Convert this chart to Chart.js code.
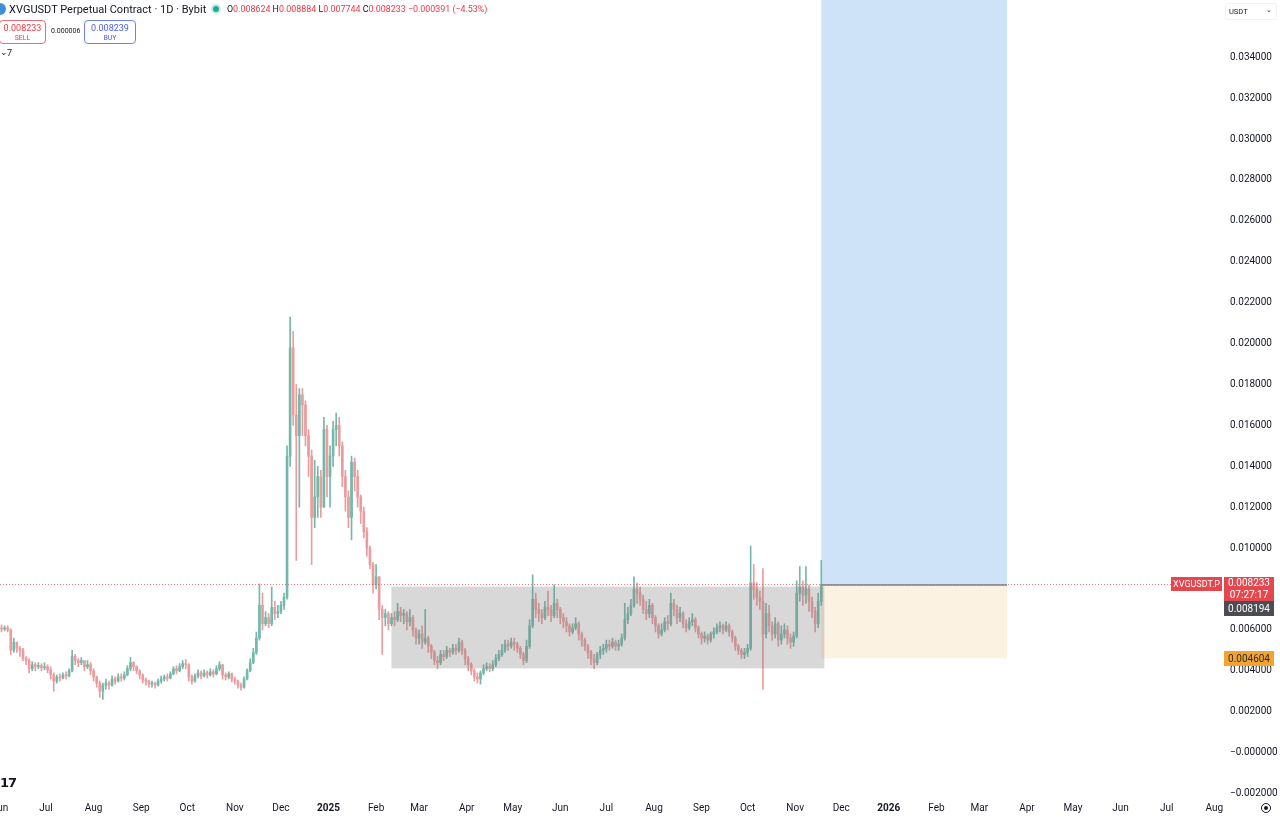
<!DOCTYPE html>
<html><head><meta charset="utf-8">
<script src="https://cdn.jsdelivr.net/npm/chart.js@4.4.1/dist/chart.umd.min.js"></script>
<style>
html,body{margin:0;padding:0;background:#fff;overflow:hidden}
#wrap{position:relative;width:1280px;height:819px;font-family:Roboto,"Noto Sans",sans-serif;color:#131722}
canvas{position:absolute;left:0;top:0}
.ov{position:absolute;white-space:nowrap;line-height:1}
.red{color:#f23645}
</style></head><body>
<div id="wrap">
<canvas id="c" width="1280" height="819"></canvas>

<div class="ov" style="left:-6px;top:3px;width:12px;height:12px;border-radius:6px;background:#3f8fd8"></div>
<div class="ov" style="left:9px;top:4px;font-size:11px;">XVGUSDT Perpetual Contract · 1D · Bybit</div>
<div class="ov" style="left:213px;top:6px;width:6px;height:6px;border-radius:4px;background:#22ab94;box-shadow:0 0 0 2px #c8ebe3"></div>
<div class="ov" id="ohlc" style="left:227px;top:5px;font-size:8.9px;"></div>

<div class="ov" style="left:-1px;top:20px;width:45px;height:22px;border:1px solid #f06a72;border-radius:4px;text-align:center;color:#f23645">
  <div style="font-size:9px;margin-top:3px">0.008233</div><div style="font-size:7px;margin-top:2px">SELL</div></div>
<div class="ov" style="left:51px;top:28px;font-size:7px;">0.000006</div>
<div class="ov" style="left:84px;top:20px;width:50px;height:22px;border:1px solid #6f7ff0;border-radius:4px;text-align:center;color:#4a5ee8">
  <div style="font-size:9px;margin-top:3px">0.008239</div><div style="font-size:7px;margin-top:2px">BUY</div></div>
<div class="ov" style="left:-1px;top:48px;font-size:9px;">
  <span style="position:absolute;left:1px;top:0px">⌄</span><span style="position:absolute;left:8px;top:1px">7</span></div>

<div class="ov" style="left:1225px;top:3px;width:50px;height:15px;border:1px solid #f0f3fa;border-radius:2px;font-size:7.5px;">
  <span style="position:absolute;left:3px;top:4px">USDT</span><span style="position:absolute;left:40px;top:3px;font-size:7px">⌄</span></div>

<div class="ov" style="left:0px;top:776px;font-size:13px;font-weight:900;letter-spacing:-1px;font-family:'DejaVu Sans',sans-serif">17</div>
<div class="ov" style="left:1261px;top:803px;width:8px;height:8px;border:1px solid #131722;border-radius:6px"></div>
<div class="ov" style="left:1264px;top:806px;width:4px;height:4px;background:#131722;border-radius:3px"></div>
</div>

<script>
// ---------- DATA ----------
const START_DATE = '2024-06-01';   // first candle
const CANDLE_DAYS = 2;             // each candle spans two days
const PRICE_UNIT = 0.001;          // arrays below are in 1e-3 USDT
const FIRST_OPEN = 6.10;

const closes = [
6.05,6.10,6.00,5.00,5.40,5.10,5.00,4.60,4.50,4.10,
4.30,4.20,4.25,4.15,4.20,4.05,3.80,3.50,3.70,3.65,
3.80,3.75,4.00,4.70,4.50,4.40,4.50,4.20,4.30,4.00,
3.70,3.40,3.00,3.30,3.40,3.30,3.60,3.50,3.70,3.65,
3.80,4.10,4.40,4.20,4.00,3.80,3.55,3.50,3.35,3.40,
3.30,3.50,3.60,3.70,3.65,3.85,4.10,4.00,4.20,4.35,
4.30,3.70,3.50,3.75,3.90,3.75,3.90,3.80,3.95,3.85,
4.10,4.30,3.80,3.70,3.85,3.60,3.50,3.30,3.20,3.60,
4.00,4.40,4.90,5.60,7.20,6.30,6.60,6.30,7.10,6.80,
6.90,7.20,7.60,14.50,19.80,16.50,15.50,17.50,17.00,15.50,
14.50,11.50,12.50,13.50,12.00,15.80,13.50,14.50,15.80,16.00,
15.00,13.50,12.50,11.50,14.20,13.50,12.50,11.80,10.80,10.00,
9.20,8.20,8.60,7.00,6.60,6.80,6.30,6.60,6.50,6.90,
6.70,6.80,6.40,6.60,6.00,5.60,5.80,5.40,5.60,5.20,
4.90,4.50,4.40,4.80,4.70,5.00,4.90,5.10,5.00,5.40,
5.00,4.60,4.30,4.00,3.70,3.60,3.90,4.10,4.20,4.10,
4.30,4.60,4.80,5.00,5.30,5.20,5.40,5.30,5.10,4.80,
4.50,5.20,6.20,7.50,7.00,6.80,6.60,7.10,7.00,6.70,
7.30,7.00,6.60,6.40,6.20,5.90,6.10,6.30,5.80,5.50,
5.20,4.90,4.60,4.40,4.80,5.00,5.10,5.30,5.20,5.40,
5.20,5.30,5.60,6.50,6.80,7.20,8.00,7.80,7.50,7.00,
6.80,7.20,6.60,6.20,5.80,6.00,6.40,6.30,7.30,7.00,
6.60,6.80,6.30,6.10,6.40,6.50,6.10,5.80,5.60,5.70,
5.50,5.80,5.90,6.10,6.20,6.00,6.20,5.90,5.60,5.20,
5.00,4.80,4.90,5.10,8.30,8.00,7.60,7.40,5.80,6.80,
6.20,5.80,6.30,5.50,5.80,6.00,5.60,5.40,5.70,7.80,
8.10,7.70,8.00,7.40,6.90,6.30,7.40,8.233];

const highs = [
6.25,6.20,6.20,6.05,5.60,5.40,5.20,5.10,4.70,4.60,
4.45,4.40,4.40,4.35,4.40,4.30,4.20,3.90,3.80,3.85,
3.90,3.95,4.10,5.00,4.80,4.60,4.65,4.50,4.50,4.40,
4.10,3.75,3.50,3.40,3.60,3.50,3.75,3.70,3.85,3.85,
3.95,4.25,4.65,4.45,4.25,4.05,3.85,3.65,3.55,3.50,
3.45,3.60,3.75,3.80,3.85,3.95,4.20,4.25,4.35,4.50,
4.55,4.35,3.80,3.85,4.05,4.00,4.05,4.00,4.10,4.05,
4.25,4.45,4.30,3.90,3.95,3.90,3.70,3.55,3.40,3.70,
4.10,4.60,5.10,5.90,8.25,7.80,6.90,6.80,8.10,7.40,
7.20,7.40,7.80,15.00,21.30,20.60,18.00,17.80,17.80,17.20,
15.80,14.80,14.30,14.00,13.80,16.40,16.00,15.00,16.20,16.60,
16.40,15.20,13.80,12.80,14.50,14.40,13.80,12.60,12.00,11.00,
10.10,9.30,9.20,8.60,7.20,7.00,6.90,6.80,6.90,7.30,
7.10,7.00,6.90,7.00,6.70,6.10,6.00,6.20,7.00,5.70,
5.30,5.00,4.70,5.00,5.00,5.20,5.10,5.30,5.30,5.60,
5.50,5.10,4.70,4.40,4.10,3.90,4.00,4.30,4.40,4.35,
4.50,4.80,5.00,5.30,5.50,5.50,5.60,5.60,5.40,5.20,
4.90,5.50,6.50,8.70,7.80,7.30,7.00,7.40,7.90,7.20,
8.20,7.50,7.10,6.80,6.60,6.30,6.30,6.60,6.40,5.90,
5.60,5.30,5.00,4.80,4.90,5.20,5.30,5.50,5.50,5.60,
5.50,5.50,5.80,7.30,7.10,7.50,8.60,8.30,8.10,7.70,
7.40,7.50,7.30,6.70,6.30,6.30,6.60,6.70,7.80,7.50,
7.20,7.10,6.90,6.50,6.60,6.80,6.60,6.20,5.90,5.90,
5.80,5.90,6.10,6.30,6.40,6.30,6.40,6.30,6.00,5.70,
5.30,5.10,5.10,5.30,10.10,9.20,8.30,7.90,9.00,7.30,
7.20,6.40,6.60,6.40,6.20,6.30,6.20,5.80,5.90,8.40,
9.10,8.40,9.10,8.20,7.60,7.10,7.80,9.40];

const lows = [
5.90,5.95,5.90,4.80,4.90,4.90,4.70,4.50,4.30,3.90,
4.00,4.00,4.10,4.00,4.05,3.90,3.60,3.00,3.40,3.50,
3.60,3.60,3.70,3.95,4.30,4.20,4.30,4.00,4.10,3.80,
3.50,3.20,2.70,2.60,3.10,3.10,3.25,3.35,3.45,3.50,
3.55,3.75,4.00,4.00,3.85,3.60,3.40,3.30,3.20,3.20,
3.15,3.25,3.40,3.50,3.50,3.60,3.80,3.85,3.95,4.10,
4.10,3.50,3.35,3.45,3.65,3.60,3.70,3.65,3.75,3.70,
3.80,4.00,3.60,3.55,3.60,3.45,3.35,3.15,3.05,3.15,
3.55,3.95,4.35,4.80,5.50,6.00,6.20,6.10,6.20,6.50,
6.60,6.80,7.00,7.50,14.00,16.00,9.40,12.00,15.50,15.00,
13.50,9.20,11.00,11.50,11.50,12.00,12.50,12.00,14.00,15.00,
14.50,13.00,11.80,11.00,10.40,12.80,12.00,11.20,10.50,9.60,
9.00,7.80,8.00,6.50,4.80,6.20,6.00,6.20,6.20,6.40,
6.40,6.30,6.00,6.20,5.70,5.30,5.30,5.10,5.30,4.90,
4.60,4.30,4.10,4.30,4.50,4.60,4.70,4.80,4.80,4.90,
4.80,4.30,4.00,3.80,3.50,3.40,3.35,3.80,4.00,3.95,
4.00,4.20,4.50,4.70,4.90,5.00,5.10,5.00,4.90,4.60,
4.30,4.40,5.10,6.10,6.60,6.40,6.30,6.50,6.70,6.40,
6.60,6.60,6.30,6.10,5.90,5.70,5.80,6.00,5.50,5.20,
5.00,4.60,4.30,4.10,4.30,4.60,4.80,4.90,5.00,5.10,
5.00,5.00,5.20,5.50,6.30,6.70,7.10,7.30,7.20,6.80,
6.50,6.60,6.30,5.90,5.60,5.70,5.90,6.00,6.20,6.70,
6.30,6.40,6.10,5.90,6.00,6.20,5.90,5.60,5.30,5.40,
5.30,5.40,5.60,5.80,5.90,5.80,5.90,5.70,5.40,5.00,
4.80,4.60,4.60,4.70,5.00,7.50,7.20,7.00,3.10,5.60,
5.90,5.50,5.60,5.20,5.30,5.60,5.30,5.10,5.20,5.60,
7.40,7.20,7.30,6.90,6.60,5.90,6.10,7.20];

const yTicks = [-0.002,0,0.002,0.004,0.006,0.008,0.010,0.012,0.014,0.016,0.018,0.020,0.022,0.024,0.026,0.028,0.030,0.032,0.034];
const monthStarts = ['2024-06-01','2024-07-01','2024-08-01','2024-09-01','2024-10-01','2024-11-01','2024-12-01',
  '2025-01-01','2025-02-01','2025-03-01','2025-04-01','2025-05-01','2025-06-01','2025-07-01','2025-08-01','2025-09-01',
  '2025-10-01','2025-11-01','2025-12-01','2026-01-01','2026-02-01','2026-03-01','2026-04-01','2026-05-01','2026-06-01',
  '2026-07-01','2026-08-01'];
const monthLabels = ['Jun','Jul','Aug','Sep','Oct','Nov','Dec','2025','Feb','Mar','Apr','May','Jun','Jul','Aug','Sep',
  'Oct','Nov','Dec','2026','Feb','Mar','Apr','May','Jun','Jul','Aug'];

const lastPrice = 0.008233;
const rangeBox = {from:'2025-02-11', to:'2025-11-20', top:0.00812, bottom:0.00412};
const longPos  = {from:'2025-11-18', to:'2026-03-19', entry:0.008194, stop:0.004604, target:0.040};
const header = {O:'0.008624', H:'0.008884', L:'0.007744', C:'0.008233', chg:'−0.000391 (−4.53%)'};

// ---------- BUILD ----------
const DAYMS = 86400000;
const START = Date.parse(START_DATE + 'T00:00:00Z');
const dayOf = s => (Date.parse(s + 'T00:00:00Z') - START) / DAYMS;

document.getElementById('ohlc').innerHTML =
  'O<span class="red">'+header.O+'</span> H<span class="red">'+header.H+'</span> L<span class="red">'+header.L+
  '</span> C<span class="red">'+header.C+'</span> <span class="red">'+header.chg+'</span>';

const GREEN = '#74b8aa', RED = '#eb9c9e';
const bodies = [], wicks = [];
let prev = FIRST_OPEN;
closes.forEach((c, i) => {
  const t = i * CANDLE_DAYS + CANDLE_DAYS / 2;
  const o = prev;
  const up = c >= o;
  bodies.push({x: t, y: [o * PRICE_UNIT, c * PRICE_UNIT], up});
  wicks.push({x: t, y: [lows[i] * PRICE_UNIT, highs[i] * PRICE_UNIT], up});
  prev = c;
});
const colorOf = ctx => (ctx.raw && ctx.raw.up) ? GREEN : RED;

const fmt = v => {
  if (Math.abs(v) < 1e-12) return '−0.000000';
  return (v < 0 ? '−' : '') + Math.abs(v).toFixed(6);
};

function tag(ctx, x, y, w, h, bg, lines, fg, size) {
  ctx.fillStyle = bg;
  ctx.fillRect(x, y, w, h);
  ctx.fillStyle = fg;
  ctx.font = (size || 10) + 'px Roboto, sans-serif';
  ctx.textAlign = 'center';
  ctx.textBaseline = 'middle';
  const lh = h / lines.length;
  lines.forEach((s, k) => ctx.fillText(s, x + w / 2, y + lh * k + lh / 2 + 0.5));
}

const overlay = {
  id: 'overlay',
  beforeDatasetsDraw(chart) {
    const {ctx, chartArea: a, scales: {x, y}} = chart;
    ctx.save();
    ctx.beginPath(); ctx.rect(a.left, a.top, a.right - a.left, a.bottom - a.top); ctx.clip();
    const x0 = x.getPixelForValue(dayOf(longPos.from)), x1 = x.getPixelForValue(dayOf(longPos.to));
    const yE = y.getPixelForValue(longPos.entry), yT = y.getPixelForValue(longPos.target), yS = y.getPixelForValue(longPos.stop);
    ctx.fillStyle = '#cfe3f8';
    ctx.fillRect(x0, yT, x1 - x0, yE - yT);
    ctx.fillStyle = '#fcf2e2';
    ctx.fillRect(x0, yE, x1 - x0, yS - yE);
    ctx.restore();
  },
  afterDatasetsDraw(chart) {
    const {ctx, chartArea: a, scales: {x, y}} = chart;
    ctx.save();
    ctx.beginPath(); ctx.rect(a.left, a.top, a.right - a.left, a.bottom - a.top); ctx.clip();
    const bx0 = x.getPixelForValue(dayOf(rangeBox.from)), bx1 = x.getPixelForValue(dayOf(rangeBox.to));
    const by0 = y.getPixelForValue(rangeBox.top), by1 = y.getPixelForValue(rangeBox.bottom);
    ctx.fillStyle = 'rgba(125,125,125,0.30)';
    ctx.fillRect(bx0, by0, bx1 - bx0, by1 - by0);
    const yp = Math.round(y.getPixelForValue(lastPrice)) + 0.5;
    ctx.strokeStyle = 'rgba(242,54,69,0.65)';
    ctx.lineWidth = 1;
    ctx.setLineDash([1, 2]);
    ctx.beginPath(); ctx.moveTo(a.left, yp); ctx.lineTo(a.right, yp); ctx.stroke();
    ctx.setLineDash([]);
    const x0 = x.getPixelForValue(dayOf(longPos.from)), x1 = x.getPixelForValue(dayOf(longPos.to));
    const yE = y.getPixelForValue(longPos.entry);
    ctx.strokeStyle = '#7b7f8e';
    ctx.lineWidth = 1.6;
    ctx.beginPath(); ctx.moveTo(x0, yE); ctx.lineTo(x1, yE); ctx.stroke();
    ctx.restore();
  },
  afterDraw(chart) {
    const {ctx, scales: {y}} = chart;
    ctx.save();
    const yp = Math.round(y.getPixelForValue(lastPrice));
    tag(ctx, 1171, yp - 7, 51, 14, '#e5474f', ['XVGUSDT.P'], '#ffffff', 9);
    tag(ctx, 1224, yp - 7, 50, 24, '#e5474f', [fmt(lastPrice), '07:27:17'], '#ffffff');
    tag(ctx, 1224, yp + 17, 50, 15, '#4b4d52', [fmt(longPos.entry)], '#ffffff');
    const ys = Math.round(y.getPixelForValue(longPos.stop));
    tag(ctx, 1224, ys - 7, 50, 15, '#f3a42e', [fmt(longPos.stop)], '#2a2a2a');
    ctx.restore();
  }
};

new Chart(document.getElementById('c'), {
  type: 'bar',
  data: {
    datasets: [
      {data: wicks, backgroundColor: colorOf, barThickness: 1, grouped: false, order: 2},
      {data: bodies, backgroundColor: colorOf, barThickness: 2, minBarLength: 1, grouped: false, order: 1}
    ]
  },
  options: {
    responsive: false,
    animation: false,
    events: [],
    layout: {padding: 0},
    plugins: {legend: {display: false}, tooltip: {enabled: false}},
    scales: {
      x: {
        type: 'linear',
        min: 0, max: 795.4,
        offset: false,
        grid: {display: false, drawTicks: false},
        border: {display: false},
        afterBuildTicks: s => { s.ticks = monthStarts.map(d => ({value: dayOf(d)})); },
        afterFit: s => { s.height = 22; s.paddingLeft = 0; s.paddingRight = 0; },
        ticks: {
          autoSkip: false, maxRotation: 0, padding: 5, color: '#131722',
          font: c => ({family: 'Roboto, sans-serif', size: 10, weight: (c.tick && /^\d{4}$/.test(monthLabels[c.index])) ? 'bold' : 'normal'}),
          callback: (v, i) => monthLabels[i]
        }
      },
      y: {
        position: 'right',
        min: -0.00217, max: 0.03680,
        grid: {display: false, drawTicks: false},
        border: {display: false},
        afterBuildTicks: s => { s.ticks = yTicks.map(v => ({value: v})); },
        afterFit: s => { s.width = 59; s.paddingTop = 0; s.paddingBottom = 0; },
        ticks: {padding: 9, color: '#131722', font: {family: 'Roboto, sans-serif', size: 10}, callback: v => fmt(v)}
      }
    }
  },
  plugins: [overlay]
});
</script>
</body></html>
